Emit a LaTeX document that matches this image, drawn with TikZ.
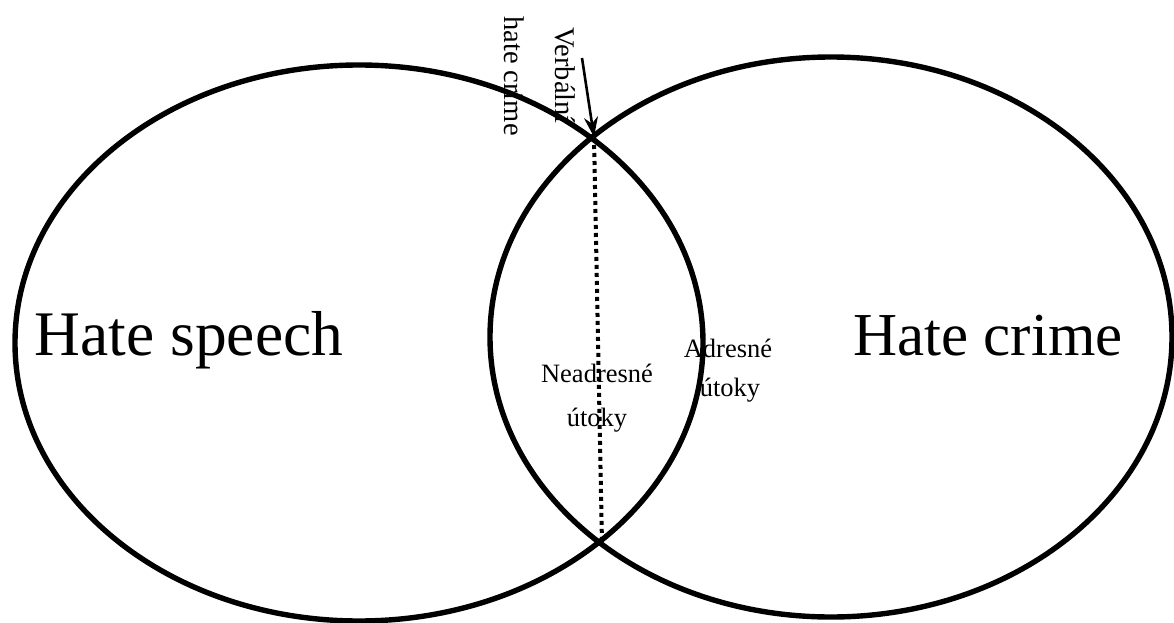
\documentclass[tikz,border=0pt]{standalone}
\usepackage{fontspec}
\setmainfont{Liberation Serif}
\usetikzlibrary{shapes.geometric,arrows.meta}
\begin{document}
\begin{tikzpicture}[x=1pt,y=-1pt,
  setshape/.style={draw=black, line width=5.4pt, ellipse, inner sep=0pt},
  biglabel/.style={font=\fontsize{61}{70}\selectfont, anchor=base, inner sep=0pt},
  smalllabel/.style={font=\fontsize{26.5}{30}\selectfont, anchor=base, inner sep=0pt},
  vertlabel/.style={font=\fontsize{28.5}{32}\selectfont, rotate=-90, anchor=west, inner sep=0pt},
  dotline/.style={line width=4pt, dash pattern=on 4pt off 4pt},
  pointer/.style={line width=2.6pt, -{Stealth[length=20pt,width=14pt]}}]
\useasboundingbox (0,0) rectangle (1174,623);
\node[setshape, minimum width=688, minimum height=556] (hs) at (359,343) {};
\node[setshape, minimum width=682, minimum height=560] (hc) at (831,337) {};
\coordinate (itop) at (594,137);
\coordinate (ibot) at (602,544);
\coordinate (astart) at (582,58);
\node[biglabel, font=\fontsize{63.5}{70}\selectfont] (hst) at (189,355) {Hate speech};
\node[biglabel] (hct) at (988,355) {Hate crime};
\node[smalllabel] (n1) at (597,382) {Neadresné};
\node[smalllabel] (n2) at (597,426) {útoky};
\node[smalllabel] (a1) at (728,357) {Adresné};
\node[smalllabel] (a2) at (730,396) {útoky};
\node[vertlabel] (v1) at (565,27) {Verbální};
\node[vertlabel] (v2) at (514,16) {hate crime};
\draw[dotline] (itop) -- (ibot);
\draw[pointer] (astart) -- (itop);
\end{tikzpicture}
\end{document}
